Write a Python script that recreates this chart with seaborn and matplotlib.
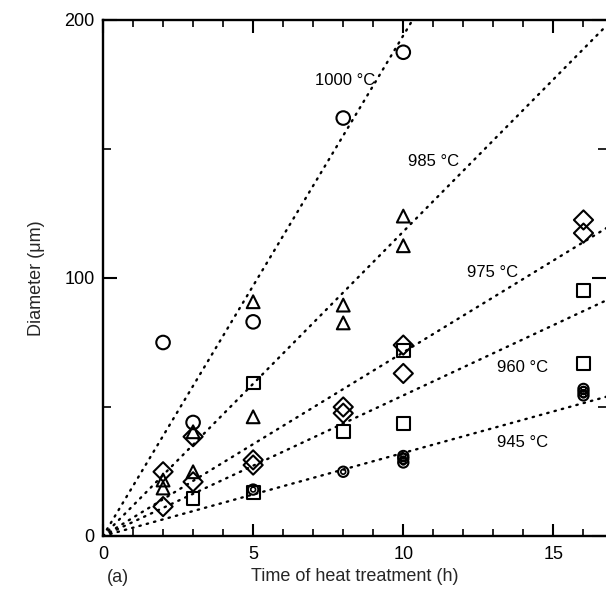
import numpy as np
import pandas as pd
import matplotlib
matplotlib.use("Agg")
import matplotlib.pyplot as plt
import seaborn as sns
from matplotlib.ticker import MultipleLocator, FixedLocator

# ---- data ----
t_1000 = [2, 3, 5, 8, 10]
d_1000 = [75, 44, 83, 162, 187.5]

t_985 = [2, 2, 3, 3, 5, 5, 8, 8, 10, 10]
d_985 = [18.6, 21.7, 40.4, 24.9, 90.8, 46.2, 89.5, 82.6, 124, 112.5]

t_975 = [2, 2, 3, 3, 5, 5, 8, 8, 10, 10, 16, 16]
d_975 = [24.9, 11.4, 38.5, 21, 29.5, 27.5, 50, 47.6, 74, 63, 122.5, 117.4]

t_960 = [3, 5, 5, 8, 10, 10, 16, 16]
d_960 = [14.6, 59.3, 17, 40.4, 72, 43.7, 95.3, 67]

t_945 = [5, 8, 10, 10, 10, 16, 16, 16]
d_945 = [18, 24.9, 28.5, 30, 31, 57, 55.8, 54.5]

temps = ["1000 °C", "985 °C", "975 °C", "960 °C", "945 °C"]
slopes = [19.4, 11.8, 7.12, 5.45, 3.22]
label_pos_x = [8.07, 11.0, 12.97, 13.97, 13.97]
label_pos_y = [176.7, 145.0, 102.0, 65.5, 36.4]

x_ticks = [0, 5, 10, 15]
y_ticks = [0, 100, 200]

sns.set_theme(style="ticks")
plt.rcParams["font.family"] = ["Liberation Sans", "DejaVu Sans"]

fig = plt.figure(figsize=(6.06, 6.03), dpi=100)
ax = fig.add_axes([103 / 606, 1 - 536 / 603, 1 - 103 / 606, (536 - 20) / 603])

rows = []
for name, ts, ds in [("1000", t_1000, d_1000), ("985", t_985, d_985),
                     ("975", t_975, d_975), ("960", t_960, d_960),
                     ("945", t_945, d_945)]:
    for t, d in zip(ts, ds):
        rows.append({"time": t, "diameter": d, "series": name})
df = pd.DataFrame(rows)

# fitted dotted lines
xl = np.array([0, 17.5])
for s in slopes:
    sns.lineplot(x=xl, y=s * xl, ax=ax, color="black", linewidth=1.7,
                 linestyle=(0, (0.6, 2.6)), dash_capstyle="round",
                 legend=False)

markers = {"1000": "o", "985": "^", "975": "D", "960": "s", "945": "o"}
sizes = {"1000": 95, "985": 85, "975": 95, "960": 85, "945": 55}
for key in ["1000", "985", "975", "960", "945"]:
    sub = df[df["series"] == key]
    sns.scatterplot(data=sub, x="time", y="diameter", ax=ax,
                    marker=markers[key], s=sizes[key], facecolor="none",
                    edgecolor="black", linewidth=1.5, legend=False, zorder=3)
# inner ring of the 945 °C symbols
sub = df[df["series"] == "945"]
sns.scatterplot(data=sub, x="time", y="diameter", ax=ax, marker="o", s=12,
                facecolor="none", edgecolor="black", linewidth=1.2,
                legend=False, zorder=4)

for lab, lx, ly in zip(temps, label_pos_x, label_pos_y):
    ax.text(lx, ly, lab, ha="center", va="center", fontsize=12,
            color="black")

ax.set_xlim(0, 16.75)
ax.set_ylim(0, 200)
ax.xaxis.set_major_locator(FixedLocator(x_ticks))
ax.xaxis.set_minor_locator(MultipleLocator(1))
ax.yaxis.set_major_locator(FixedLocator(y_ticks))
ax.yaxis.set_minor_locator(FixedLocator([50, 150]))
ax.tick_params(axis="both", which="both", direction="in", top=True,
               right=True, colors="black", labelsize=13)
ax.tick_params(axis="x", which="major", length=9, width=1.5, pad=7)
ax.tick_params(axis="x", which="minor", length=5, width=1.2)
ax.tick_params(axis="y", which="major", length=10, width=1.5, pad=6)
ax.tick_params(axis="y", which="minor", length=6, width=1.2)
for side in ["left", "bottom", "top"]:
    ax.spines[side].set_linewidth(1.7)
    ax.spines[side].set_color("black")
ax.spines["right"].set_visible(False)

ax.set_xlabel("Time of heat treatment (h)", fontsize=13, labelpad=4)
ax.set_ylabel("Diameter (μm)", fontsize=13, labelpad=14)
fig.text(118 / 606, 1 - 578 / 603, "(a)", fontsize=13, ha="center",
         va="center")

fig.savefig("out.png", dpi=100)
